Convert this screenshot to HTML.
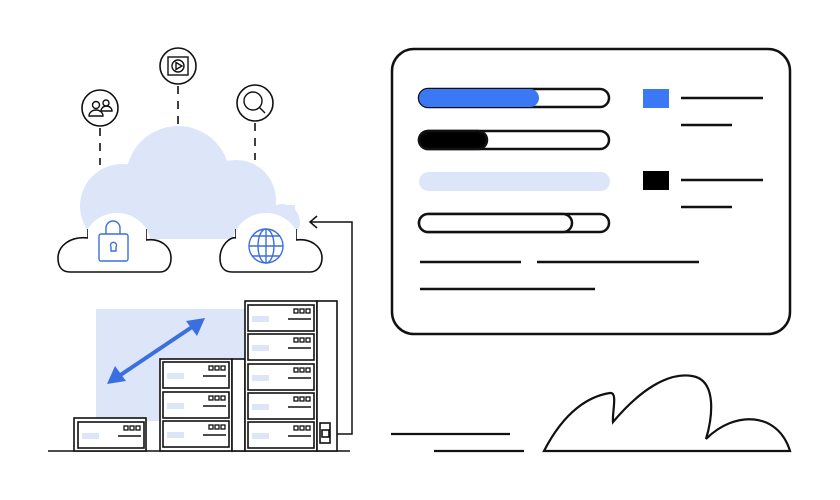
<!DOCTYPE html>
<html><head><meta charset="utf-8"><style>html,body{margin:0;padding:0;background:#fff}svg{display:block}</style></head>
<body>
<svg width="840" height="500" viewBox="0 0 840 500" xmlns="http://www.w3.org/2000/svg">
<defs>
<g id="u">
<rect x="0" y="0" width="66" height="26" fill="#fff" stroke="#111" stroke-width="1.6"/>
<rect x="4" y="11" width="17" height="6" fill="#dce6f8"/>
<rect x="46" y="4" width="4" height="4" fill="none" stroke="#111" stroke-width="1.3"/>
<rect x="52" y="4" width="4" height="4" fill="none" stroke="#111" stroke-width="1.3"/>
<rect x="58" y="4" width="4" height="4" fill="none" stroke="#111" stroke-width="1.3"/>
<line x1="40" y1="14" x2="63" y2="14" stroke="#111" stroke-width="1.5"/>
</g>
</defs>
<!-- big cloud -->
<g fill="#dce6f8">
<circle cx="178" cy="178" r="52"/>
<circle cx="122" cy="206" r="42"/>
<circle cx="236" cy="200" r="40"/>
<circle cx="282" cy="222" r="18"/>
<rect x="90" y="205" width="205" height="34"/>
</g>
<!-- small clouds -->
<g fill="#fff" stroke="#111" stroke-width="1.6">
<circle cx="117" cy="248" r="35" stroke="none"/>
<path d="M88 229 L88 238 C70 236 58 246 58 258 C58 268 63 272 70 272 H160 C167 272 171 266 171 258 C171 246 160 238 146 240 L146 229"/>
<circle cx="266" cy="248" r="35" stroke="none"/>
<path d="M236 229 L236 238 C230 236 220 246 220 258 C220 268 225 272 232 272 H310 C317 272 322 266 322 258 C322 246 310 238 296 240 L296 229"/>
<rect x="236" y="229" width="60" height="40" stroke="none"/>
<rect x="88" y="229" width="58" height="40" stroke="none"/>
</g>
<!-- lock -->
<g fill="none" stroke="#3b6fe0" stroke-width="1.4">
<rect x="99" y="234" width="29" height="27" rx="2"/>
<path d="M106 234 V228 A7 7 0 0 1 120 228 V234"/>
<path d="M111 251 V247 A3 3 0 1 1 116 247 V251 Z"/>
</g>
<!-- globe -->
<g fill="none" stroke="#3b6fe0" stroke-width="1.4">
<circle cx="266" cy="246" r="17"/>
<ellipse cx="266" cy="246" rx="8" ry="17"/>
<line x1="266" y1="229" x2="266" y2="263"/>
<line x1="249" y1="246" x2="283" y2="246"/>
<path d="M252 236 H280 M252 256 H280"/>
</g>
<!-- icons -->
<g fill="#fff" stroke="#111" stroke-width="1.6">
<circle cx="100" cy="108" r="18"/>
<circle cx="178" cy="66" r="18"/>
<circle cx="255" cy="103" r="18"/>
</g>
<g fill="none" stroke="#111" stroke-width="1.4">
<circle cx="96" cy="105" r="3.5"/><path d="M89 116 A7 6 0 0 1 103 116 Z"/>
<circle cx="106" cy="103" r="3"/><path d="M101 111 A5.5 5 0 0 1 112 111 Z"/>
<rect x="168" y="57" width="20" height="18"/>
<circle cx="178" cy="66" r="6"/><path d="M176 62.5 L182 66 L176 69.5 Z"/>
<circle cx="253" cy="101" r="9"/><line x1="259" y1="107" x2="265" y2="113"/>
</g>
<g stroke="#111" stroke-width="1.6" stroke-dasharray="8 7">
<line x1="100" y1="128" x2="100" y2="165"/>
<line x1="178" y1="86" x2="178" y2="125"/>
<line x1="255" y1="123" x2="255" y2="160"/>
</g>
<!-- connector -->
<path d="M330 434 H352 V222 H310" fill="none" stroke="#111" stroke-width="1.5"/>
<path d="M317 216 L310 222 L317 228" fill="none" stroke="#111" stroke-width="1.5"/>
<!-- servers -->
<rect x="96" y="309" width="150" height="112" fill="#dce6f8"/>
<line x1="48" y1="451" x2="350" y2="451" stroke="#111" stroke-width="1.6"/>
<g fill="#fff" stroke="#111" stroke-width="1.6">
<rect x="74" y="418" width="72" height="33"/>
<rect x="160" y="359" width="72" height="92"/>
<rect x="232" y="359" width="13" height="92" fill="#fff"/>
<rect x="245" y="301" width="72" height="150"/>
<rect x="317" y="301" width="20" height="150"/>
<rect x="320" y="423" width="10" height="20"/>
<rect x="322" y="430" width="7" height="7"/>
</g>
<use href="#u" x="78" y="422"/>
<use href="#u" x="163" y="362"/><use href="#u" x="163" y="392"/><use href="#u" x="163" y="421"/>
<use href="#u" x="248" y="305"/><use href="#u" x="248" y="334"/><use href="#u" x="248" y="364"/><use href="#u" x="248" y="393"/><use href="#u" x="248" y="422"/>
<!-- arrow -->
<g stroke="#3b6fe0" stroke-width="4" fill="#3b6fe0">
<line x1="116" y1="378" x2="198" y2="323"/>
</g>
<path d="M205 318 L186 321 L197 336 Z" fill="#3b6fe0"/>
<path d="M107 384 L126 381 L115 366 Z" fill="#3b6fe0"/>
<!-- panel -->
<rect x="392" y="49" width="398" height="285" rx="22" fill="#fff" stroke="#111" stroke-width="2.5"/>
<g stroke="#111" stroke-width="2.5">
<rect x="419" y="89" width="190" height="18" rx="9" fill="#fff"/>
<rect x="419" y="89" width="120" height="18" rx="9" fill="#3b78f5" stroke="none"/>
<rect x="419" y="131" width="190" height="18" rx="9" fill="#fff"/>
<rect x="419" y="131" width="68" height="18" rx="9" fill="#000"/>
<rect x="419" y="172" width="191" height="19" rx="9.5" fill="#dce6f8" stroke="none"/>
<rect x="419" y="214" width="190" height="18" rx="9" fill="#fff"/>
<rect x="419" y="214" width="153" height="18" rx="9" fill="#fff"/>
<line x1="681" y1="98" x2="763" y2="98"/>
<line x1="681" y1="125" x2="732" y2="125"/>
<line x1="681" y1="180" x2="763" y2="180"/>
<line x1="681" y1="207" x2="732" y2="207"/>
<line x1="420" y1="262" x2="521" y2="262"/>
<line x1="537" y1="262" x2="699" y2="262"/>
<line x1="420" y1="289" x2="595" y2="289"/>
</g>
<rect x="643" y="89" width="26" height="19" fill="#3b78f5"/>
<rect x="643" y="171" width="26" height="19" fill="#000"/>
<!-- bottom -->
<g stroke="#111" stroke-width="2.2" fill="none">
<line x1="391" y1="434" x2="510" y2="434"/>
<line x1="434" y1="451" x2="524" y2="451"/>
<path d="M544 451 C565 410 590 396 610 393 C618 392 612 412 613 422 C640 390 668 372 692 376 C718 380 712 420 706 439 C735 410 778 412 790 451 Z"/>
</g>
</svg>
</body></html>
